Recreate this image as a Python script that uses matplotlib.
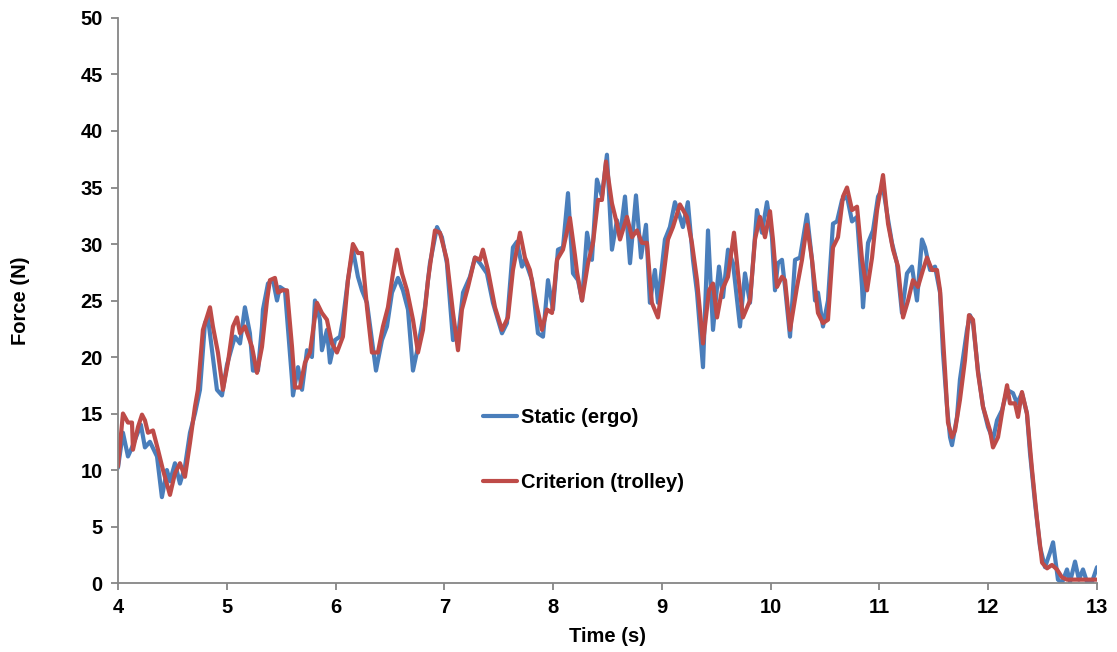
import matplotlib
matplotlib.use("Agg")
import matplotlib.pyplot as plt

# Static (ergo) force trace: time (s), force (N)
static_t = [4.000, 4.046, 4.092, 4.129, 4.211, 4.248, 4.294, 4.359, 4.404, 4.450,
            4.478, 4.524, 4.570, 4.616, 4.662, 4.708, 4.754, 4.800, 4.827, 4.910,
            4.956, 5.002, 5.057, 5.076, 5.122, 5.167, 5.213, 5.241, 5.287, 5.324,
            5.333, 5.379, 5.425, 5.462, 5.489, 5.535, 5.600, 5.609, 5.655, 5.692,
            5.738, 5.783, 5.811, 5.857, 5.875, 5.921, 5.949, 5.995, 6.041, 6.068,
            6.114, 6.160, 6.206, 6.243, 6.289, 6.335, 6.372, 6.427, 6.473, 6.519,
            6.574, 6.620, 6.666, 6.712, 6.758, 6.822, 6.868, 6.933, 6.978, 7.024,
            7.080, 7.126, 7.172, 7.236, 7.282, 7.328, 7.392, 7.447, 7.530, 7.576,
            7.631, 7.668, 7.714, 7.741, 7.806, 7.861, 7.907, 7.953, 7.999, 8.045,
            8.091, 8.137, 8.183, 8.229, 8.266, 8.312, 8.357, 8.403, 8.449, 8.495,
            8.541, 8.587, 8.615, 8.661, 8.707, 8.762, 8.808, 8.854, 8.890, 8.936,
            8.964, 9.028, 9.074, 9.120, 9.166, 9.193, 9.239, 9.286, 9.323, 9.378,
            9.424, 9.470, 9.525, 9.562, 9.608, 9.654, 9.718, 9.764, 9.810, 9.874,
            9.920, 9.966, 10.012, 10.040, 10.067, 10.104, 10.132, 10.178, 10.224, 10.270,
            10.334, 10.380, 10.408, 10.435, 10.481, 10.527, 10.573, 10.610, 10.656, 10.702,
            10.748, 10.794, 10.840, 10.849, 10.895, 10.941, 10.987, 11.033, 11.070, 11.115,
            11.161, 11.207, 11.253, 11.299, 11.345, 11.391, 11.419, 11.465, 11.511, 11.557,
            11.584, 11.621, 11.649, 11.667, 11.713, 11.740, 11.805, 11.832, 11.860, 11.906,
            11.952, 11.998, 12.044, 12.081, 12.127, 12.173, 12.228, 12.265, 12.310, 12.356,
            12.384, 12.430, 12.476, 12.522, 12.568, 12.596, 12.641, 12.678, 12.724, 12.752,
            12.798, 12.834, 12.871, 12.908, 12.954, 13.000]
static_f = [10.2, 13.3, 11.2, 12.0, 14.0, 12.0, 12.5, 11.2, 7.6, 10.0,
            9.0, 10.6, 8.8, 10.3, 13.3, 15.0, 17.1, 23.0, 23.5, 17.1,
            16.6, 19.3, 21.2, 21.8, 21.2, 24.4, 22.1, 18.8, 18.8, 22.7,
            24.2, 26.5, 26.8, 25.0, 26.2, 25.9, 18.0, 16.6, 19.1, 17.1,
            20.6, 20.0, 25.0, 23.3, 20.6, 22.4, 19.5, 21.5, 21.8, 23.3,
            26.8, 29.5, 27.1, 25.9, 24.8, 21.5, 18.8, 21.5, 22.7, 25.7,
            27.0, 25.9, 24.2, 18.8, 20.9, 24.4, 28.3, 31.5, 30.6, 28.3,
            21.5, 21.8, 25.7, 27.1, 28.8, 28.3, 27.4, 24.8, 22.1, 23.0,
            29.7, 30.2, 28.0, 28.6, 26.8, 22.1, 21.8, 26.8, 24.2, 29.5,
            29.7, 34.5, 27.4, 26.8, 25.0, 31.0, 28.6, 35.7, 34.2, 37.9,
            29.5, 32.1, 30.6, 34.2, 28.3, 34.3, 28.8, 31.7, 24.8, 27.7,
            24.8, 30.4, 31.5, 33.7, 32.4, 31.5, 33.7, 28.6, 25.7, 19.1,
            31.2, 22.4, 28.0, 25.3, 29.5, 28.3, 22.7, 27.4, 24.8, 33.0,
            31.0, 33.7, 30.6, 25.9, 28.3, 28.6, 26.2, 21.8, 28.6, 28.8,
            32.6, 28.6, 25.0, 25.7, 22.7, 25.0, 31.8, 32.0, 33.9, 34.2,
            32.0, 32.4, 26.2, 24.4, 30.1, 31.2, 34.2, 35.0, 32.7, 30.1,
            28.3, 23.9, 27.4, 28.0, 25.0, 30.4, 29.7, 27.7, 28.0, 25.7,
            20.4, 15.6, 12.9, 12.2, 14.7, 18.0, 22.4, 23.7, 23.0, 18.8,
            15.6, 13.8, 12.7, 14.4, 15.3, 17.1, 16.8, 15.9, 16.8, 15.0,
            11.5, 7.1, 3.2, 1.4, 2.7, 3.6, 0.3, 0.0, 1.2, 0.1,
            1.9, 0.3, 1.2, 0.1, 0.1, 1.4]

# Criterion (trolley) force trace: time (s), force (N)
criterion_t = [4.000, 4.046, 4.092, 4.129, 4.138, 4.184, 4.221, 4.248, 4.276, 4.322,
               4.368, 4.414, 4.478, 4.524, 4.570, 4.616, 4.662, 4.708, 4.735, 4.781,
               4.846, 4.873, 4.919, 4.965, 5.011, 5.057, 5.094, 5.122, 5.167, 5.232,
               5.278, 5.324, 5.370, 5.397, 5.443, 5.471, 5.508, 5.554, 5.600, 5.627,
               5.673, 5.719, 5.765, 5.829, 5.875, 5.921, 5.967, 6.013, 6.068, 6.114,
               6.160, 6.206, 6.243, 6.289, 6.335, 6.390, 6.436, 6.482, 6.528, 6.565,
               6.611, 6.657, 6.712, 6.758, 6.804, 6.850, 6.914, 6.960, 7.024, 7.080,
               7.126, 7.162, 7.218, 7.282, 7.328, 7.355, 7.401, 7.466, 7.530, 7.585,
               7.631, 7.696, 7.741, 7.787, 7.852, 7.898, 7.944, 7.990, 8.036, 8.091,
               8.155, 8.201, 8.220, 8.266, 8.321, 8.367, 8.413, 8.449, 8.486, 8.541,
               8.587, 8.615, 8.679, 8.725, 8.771, 8.817, 8.863, 8.908, 8.964, 9.010,
               9.056, 9.102, 9.166, 9.230, 9.276, 9.323, 9.378, 9.433, 9.470, 9.507,
               9.552, 9.608, 9.663, 9.700, 9.745, 9.810, 9.856, 9.902, 9.948, 9.994,
               10.021, 10.058, 10.104, 10.132, 10.178, 10.242, 10.288, 10.334, 10.380, 10.435,
               10.481, 10.527, 10.573, 10.619, 10.665, 10.702, 10.748, 10.794, 10.840, 10.886,
               10.932, 10.978, 11.033, 11.079, 11.125, 11.171, 11.217, 11.263, 11.308, 11.354,
               11.400, 11.437, 11.483, 11.529, 11.557, 11.603, 11.630, 11.667, 11.695, 11.740,
               11.786, 11.823, 11.860, 11.906, 11.952, 12.016, 12.044, 12.090, 12.136, 12.173,
               12.200, 12.246, 12.274, 12.310, 12.356, 12.403, 12.449, 12.495, 12.541, 12.586,
               12.632, 12.678, 12.724, 12.816, 12.908, 13.000]
criterion_f = [10.3, 15.0, 14.2, 14.2, 11.8, 13.8, 14.9, 14.4, 13.3, 13.5,
               11.8, 10.0, 7.8, 9.7, 10.6, 9.4, 12.4, 15.6, 17.1, 22.4,
               24.4, 22.7, 20.4, 17.1, 19.5, 22.7, 23.5, 22.1, 22.7, 20.9,
               18.6, 20.9, 25.0, 26.8, 27.0, 25.7, 25.9, 25.9, 20.9, 17.3,
               17.3, 19.5, 20.4, 24.8, 23.9, 23.3, 21.2, 20.4, 21.8, 26.8,
               30.0, 29.2, 29.2, 24.4, 20.4, 20.4, 22.7, 24.4, 27.4, 29.5,
               27.4, 25.9, 23.3, 20.4, 22.4, 26.8, 31.2, 31.0, 28.6, 23.9,
               20.6, 24.2, 26.2, 28.8, 28.6, 29.5, 27.7, 24.4, 22.4, 23.5,
               27.7, 31.0, 28.8, 27.7, 24.4, 22.4, 24.2, 23.9, 28.6, 29.5,
               32.3, 29.0, 27.5, 25.0, 28.3, 30.1, 33.9, 33.9, 37.3, 33.6,
               31.8, 30.4, 32.4, 30.6, 31.2, 30.1, 30.1, 24.8, 23.5, 26.8,
               30.4, 31.5, 33.5, 32.4, 30.1, 26.8, 21.2, 25.9, 26.5, 23.5,
               25.9, 27.1, 31.0, 27.4, 23.5, 25.0, 30.4, 32.4, 30.6, 32.9,
               30.4, 26.2, 27.1, 26.8, 22.4, 26.2, 28.6, 31.7, 28.6, 23.9,
               23.0, 23.3, 29.7, 30.6, 34.2, 35.0, 33.0, 33.3, 28.6, 25.9,
               28.8, 33.0, 36.1, 31.8, 29.5, 28.0, 23.5, 25.0, 26.8, 26.2,
               27.7, 28.8, 27.7, 27.7, 25.9, 18.8, 14.2, 12.9, 13.5, 16.2,
               19.7, 23.7, 23.3, 18.6, 15.6, 13.5, 12.0, 12.9, 15.6, 17.5,
               15.9, 15.9, 14.7, 16.9, 15.0, 10.0, 5.6, 1.8, 1.3, 1.6,
               1.2, 0.5, 0.3, 0.3, 0.3, 0.3]

series_labels = ["Static (ergo)", "Criterion (trolley)"]
x_ticks = [4, 5, 6, 7, 8, 9, 10, 11, 12, 13]
y_ticks = [0, 5, 10, 15, 20, 25, 30, 35, 40, 45, 50]

plt.rcParams["font.family"] = ["Liberation Sans", "DejaVu Sans"]
plt.rcParams["font.weight"] = "bold"

FS = 14.5

fig = plt.figure(figsize=(11.17, 6.52), dpi=100)
ax = fig.add_axes([0.1056, 0.1058, 0.8765, 0.8666])

blue = "#4A7EBB"
red = "#BE4B48"
ax.plot(static_t, static_f, color=blue, lw=3.0, label=series_labels[0],
        solid_joinstyle="round", solid_capstyle="round")
ax.plot(criterion_t, criterion_f, color=red, lw=3.0, label=series_labels[1],
        solid_joinstyle="round", solid_capstyle="round")

ax.set_xlim(4, 13)
ax.set_ylim(0, 50)
ax.set_xticks(x_ticks)
ax.set_yticks(y_ticks)

grey = "#868686"
for side in ("top", "right"):
    ax.spines[side].set_visible(False)
for side in ("left", "bottom"):
    ax.spines[side].set_color(grey)
    ax.spines[side].set_linewidth(1.3)
ax.tick_params(axis="both", direction="out", length=5, width=1.3, color=grey,
               labelsize=FS, labelcolor="black", pad=6)
for lbl in ax.get_xticklabels() + ax.get_yticklabels():
    lbl.set_fontweight("bold")

ax.set_xlabel("Time (s)", fontsize=FS, fontweight="bold")
ax.set_ylabel("Force (N)", fontsize=FS, fontweight="bold")
ax.xaxis.set_label_coords(0.5, -0.078)
ax.yaxis.set_label_coords(-0.09, 0.5)

leg = ax.legend(loc="upper left", bbox_to_anchor=(0.363, 0.327), frameon=False,
                handlelength=1.65, handletextpad=0.2, labelspacing=2.25,
                borderpad=0, prop={"weight": "bold", "size": FS})

fig.savefig("out.png", dpi=100, facecolor="white")
